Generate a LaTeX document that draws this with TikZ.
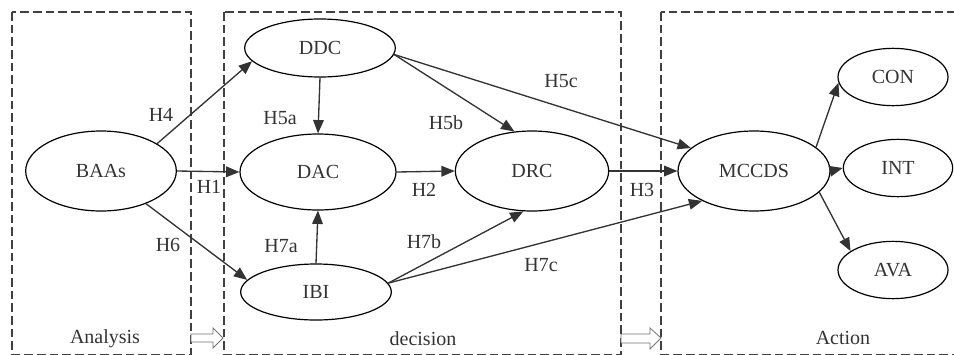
\documentclass[tikz,border=0pt]{standalone}
\usepackage{fontspec}
\setmainfont{Liberation Serif}
\usetikzlibrary{shapes.geometric,arrows.meta}

\begin{document}
\begin{tikzpicture}[x=0.75pt, y=-0.75pt,
    font=\fontsize{15}{18}\selectfont,
    var/.style={ellipse, draw, line width=0.9pt, inner sep=0pt, text=black!80},
    link/.style={-{Triangle[length=10pt,width=8pt]}, line width=1pt, draw=black!80},
    lab/.style={text=black!80},
    region/.style={dashed, dash pattern=on 6.5pt off 3pt, line width=0.9pt, draw=black!75},
    hollow/.style={draw=black!55, line width=0.6pt, fill=white}]
      \useasboundingbox (0,0) rectangle (954,354);
      % the three phases
      \draw [region] (12,12) rectangle (191,354.5);
      \draw [region] (224,12) rectangle (621,354.5);
      \draw [region] (661,12) rectangle (960,354.5);
      \node [lab] (analysis) at (105,339) {Analysis};
      \node [lab] (decision) at (423,339) {decision};
      \node [lab] (action) at (843,338) {Action};
      \draw [hollow] (191,334) -- (213,334) -- (213,328) -- (223,338) -- (213,348) -- (213,342) -- (191,342) -- cycle;
      \draw [hollow] (621,334) -- (650,334) -- (650,328) -- (661,338) -- (650,349) -- (650,343) -- (621,343) -- cycle;
      % variables
      \node [var, minimum width=113pt, minimum height=60pt] (baas) at (101,171) {BAAs};
      \node [var, minimum width=113pt, minimum height=43.5pt] (ddc) at (320,48) {DDC};
      \node [var, minimum width=117pt, minimum height=57pt] (dac) at (318,172) {DAC};
      \node [var, minimum width=113pt, minimum height=42pt] (ibi) at (316,292) {IBI};
      \node [var, minimum width=115pt, minimum height=60pt] (drc) at (532,171) {DRC};
      \node [var, minimum width=114pt, minimum height=60pt] (mccds) at (754,171) {MCCDS};
      \node [var, minimum width=82.5pt, minimum height=43pt] (con) at (893,77) {CON};
      \node [var, minimum width=82pt, minimum height=43pt] (int) at (898,168) {INT};
      \node [var, minimum width=82.5pt, minimum height=43pt] (ava) at (893,270) {AVA};
      % hypotheses
      \draw [link] (baas.26) -- (ddc.191);
      \draw [link] (baas.east) -- (dac.west);
      \draw [link] (baas.-36) -- (ibi.170);
      \draw [link] (ddc.south) -- (dac.north);
      \draw [link] (ibi.north) -- (dac.south);
      \draw [link] (dac.east) -- (drc.west);
      \draw [link] (ddc.-5) -- (drc.114);
      \draw [link] (ddc.-5) -- (mccds.160);
      \draw [link] (ibi.7) -- (drc.258);
      \draw [link] (ibi.7) -- (mccds.210);
      \draw [link] (drc.east) -- (mccds.west);
      \draw [link] (mccds.21) -- (con.186);
      \draw [link] (mccds.east) -- (int.west);
      \draw [link] (mccds.-18) -- (ava.156);
      \node [lab] (h4) at (161,115) {H4};
      \node [lab] (h5a) at (280,118) {H5a};
      \node [lab] (h5b) at (446,123) {H5b};
      \node [lab] (h5c) at (561,81) {H5c};
      \node [lab] (h1) at (209,187) {H1};
      \node [lab] (h2) at (424,190) {H2};
      \node [lab] (h3) at (642,190) {H3};
      \node [lab] (h6) at (168,245) {H6};
      \node [lab] (h7a) at (281,246) {H7a};
      \node [lab] (h7b) at (424,242) {H7b};
      \node [lab] (h7c) at (541,265) {H7c};
\end{tikzpicture}
\end{document}
